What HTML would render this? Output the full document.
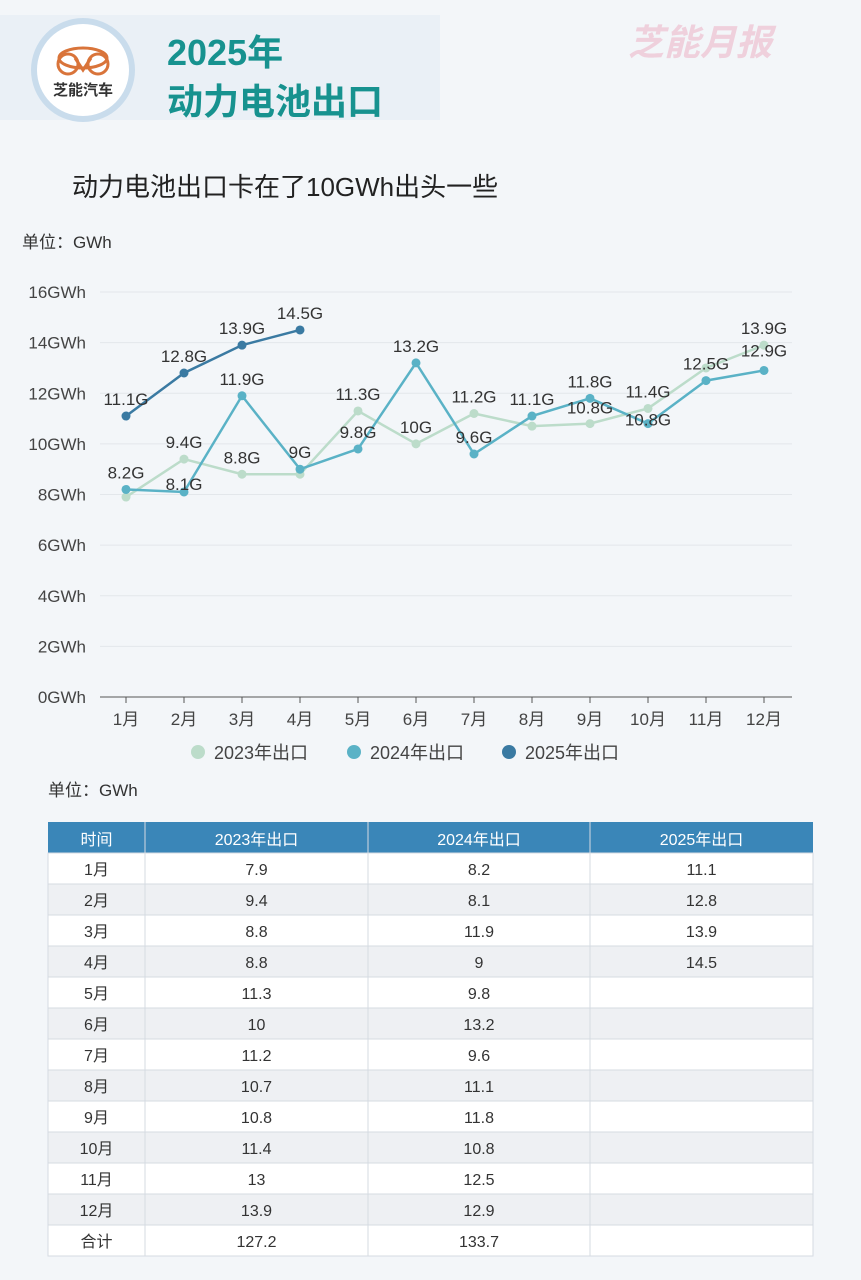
<!DOCTYPE html>
<html><head><meta charset="utf-8"><style>
body{margin:0;background:#f3f6f9;width:861px;height:1280px;overflow:hidden;font-family:"Liberation Sans","Noto Sans CJK SC",sans-serif}
svg{display:block}
</style></head><body>
<svg id="s" width="861" height="1280" xmlns="http://www.w3.org/2000/svg" font-family="Liberation Sans, Noto Sans CJK SC, sans-serif">
<rect width="861" height="1280" fill="#f3f6f9"/>
<rect x="0" y="15" width="440" height="105" fill="#eaf0f6"/>
<circle cx="83" cy="70" r="52" fill="#c9dcec"/>
<circle cx="83" cy="70" r="46" fill="#ffffff"/>
<g fill="none" stroke="#d9743a" stroke-width="3"><ellipse cx="83" cy="58" rx="24" ry="10"/><circle cx="68" cy="64" r="10"/><circle cx="98" cy="64" r="10"/><path d="M75 58 L83 70 L91 58"/></g>
<text x="83" y="95" font-size="15" font-weight="bold" fill="#333" text-anchor="middle">芝能汽车</text>
<text x="167" y="65" font-size="36" font-weight="bold" fill="#17928f">2025年</text>
<text x="167" y="114" font-size="36" font-weight="bold" fill="#17928f">动力电池出口</text>
<text x="628" y="55" font-size="36" font-weight="bold" fill="#efd0dc" font-style="italic">芝能月报</text>
<text x="72" y="196" font-size="26" fill="#222">动力电池出口卡在了10GWh出头一些</text>
<text x="22" y="248" font-size="17" fill="#333">单位：GWh</text>
<text x="48" y="796" font-size="17" fill="#333">单位：GWh</text>
<g id="chart"></g>
<g id="tbl"></g>
</svg>
<script>
const ns="http://www.w3.org/2000/svg";
function el(p,t,a,txt){const e=document.createElementNS(ns,t);for(const k in a)e.setAttribute(k,a[k]);if(txt!==undefined)e.textContent=txt;p.appendChild(e);return e;}
const c=document.getElementById('chart');
const Y=v=>697-v*25.3125, X=i=>126+i*58;
for(let v=0;v<=16;v+=2){el(c,'line',{x1:100,x2:792,y1:Y(v),y2:Y(v),stroke:v?'#e3e7eb':'#555','stroke-width':1});
el(c,'text',{x:86,y:Y(v)+6,'font-size':17,fill:'#444','text-anchor':'end'},v+'GWh');}
for(let i=0;i<12;i++){el(c,'line',{x1:X(i),x2:X(i),y1:697,y2:703,stroke:'#555'});el(c,'text',{x:X(i),y:725,'font-size':17,fill:'#444','text-anchor':'middle'},(i+1)+'月');}
const d23=[7.9,9.4,8.8,8.8,11.3,10,11.2,10.7,10.8,11.4,13,13.9];
const d24=[8.2,8.1,11.9,9,9.8,13.2,9.6,11.1,11.8,10.8,12.5,12.9];
const d25=[11.1,12.8,13.9,14.5];
function series(d,col){el(c,'polyline',{points:d.map((v,i)=>X(i)+','+Y(v)).join(' '),fill:'none',stroke:col,'stroke-width':2.5});
d.forEach((v,i)=>el(c,'circle',{cx:X(i),cy:Y(v),r:4.5,fill:col}));}
series(d23,'#bcdcca');series(d24,'#5ab2c6');series(d25,'#3a7aa2');
const labs=[[0,11.1,'11.1G'],[1,12.8,'12.8G'],[2,13.9,'13.9G'],[3,14.5,'14.5G'],[0,8.2,'8.2G'],[1,9.4,'9.4G'],[1,8.1,'8.1G',1],[2,11.9,'11.9G'],[2,8.8,'8.8G'],[3,9,'9G'],[4,11.3,'11.3G'],[4,9.8,'9.8G'],[5,13.2,'13.2G'],[5,10,'10G'],[6,11.2,'11.2G'],[6,9.6,'9.6G'],[7,11.1,'11.1G'],[8,11.8,'11.8G'],[8,10.8,'10.8G'],[9,11.4,'11.4G'],[9,10.8,'10.8G',2],[10,12.5,'12.5G'],[11,13.9,'13.9G'],[11,12.9,'12.9G']];
labs.forEach(l=>{let y=Y(l[1])-11;if(l[3]===1)y=Y(l[1])-2;if(l[3]===2)y=Y(l[1])+2;
if(l[2]==='10.8G'&&l[0]===8)y=Y(10.8)-10;if(l[0]===11&&l[1]===12.9)y=Y(12.9)-14;
el(c,'text',{x:X(l[0]),y:y,'font-size':17,fill:'#333','text-anchor':'middle'},l[2]);});
[[198,'#bcdcca','2023年出口'],[354,'#5ab2c6','2024年出口'],[509,'#3a7aa2','2025年出口']].forEach(g=>{el(c,'circle',{cx:g[0],cy:752,r:7,fill:g[1]});el(c,'text',{x:g[0]+16,y:759,'font-size':18,fill:'#444'},g[2]);});
const t=document.getElementById('tbl');
const cx=[48,145,368,590,813];
el(t,'rect',{x:48,y:822,width:765,height:31,fill:'#3a86b8'});
['时间','2023年出口','2024年出口','2025年出口'].forEach((h,j)=>el(t,'text',{x:(cx[j]+cx[j+1])/2,y:845,'font-size':16,fill:'#fff','text-anchor':'middle'},h));
const rows=[];for(let i=0;i<12;i++)rows.push([(i+1)+'月',d23[i],d24[i],d25[i]!==undefined?d25[i]:'']);
rows.push(['合计','127.2','133.7','']);
rows.forEach((r,i)=>{const y=853+i*31;el(t,'rect',{x:48,y:y,width:765,height:31,fill:i%2?'#eef0f3':'#ffffff',stroke:'#d5dbe2'});
r.forEach((v,j)=>el(t,'text',{x:(cx[j]+cx[j+1])/2,y:y+22,'font-size':16,fill:'#333','text-anchor':'middle'},String(v)));});
for(let j=1;j<4;j++)el(t,'line',{x1:cx[j],x2:cx[j],y1:822,y2:853+13*31,stroke:'#d5dbe2'});
</script>
</body></html>
